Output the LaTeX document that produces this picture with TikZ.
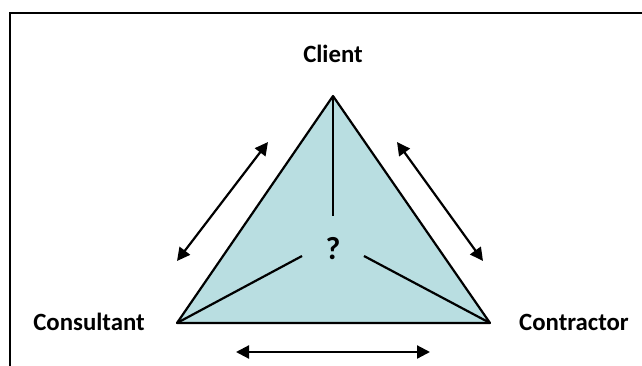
\documentclass[tikz,border=0pt]{standalone}
\usepackage{fontspec}
\setmainfont{Carlito}
\usetikzlibrary{arrows.meta}
\definecolor{trifill}{HTML}{B9DEE1}
\tikzset{
  lbl/.style={font=\bfseries\fontsize{24.8}{28}\selectfont, anchor=base, inner sep=0pt},
  qmark/.style={font=\bfseries\fontsize{32}{36}\selectfont, anchor=base, inner sep=0pt},
  edge/.style={line width=2.2pt, line join=round},
  dblarrow/.style={line width=2.2pt, {Triangle[length=13pt,width=13pt]}-{Triangle[length=13pt,width=13pt]}},
  frame/.style={line width=2.5pt}
}
\begin{document}
\begin{tikzpicture}[x=1pt,y=-1pt]
\useasboundingbox (0,0) rectangle (642,365);
\begin{scope}
\clip (0,0) rectangle (642,365);
\draw[frame] (10,370) -- (10,13) -- (650,13);
\end{scope}
% vertices
\coordinate (A) at (333,96);
\coordinate (L) at (177,323);
\coordinate (R) at (490,323);
\coordinate (iA) at (333,216);
\coordinate (iL) at (302,256);
\coordinate (iR) at (364,256);
\fill[trifill] (A) -- (L) -- (R) -- cycle;
\draw[edge] (A) -- (L) -- (R) -- cycle;
\draw[edge] (A) -- (iA);
\draw[edge] (L) -- (iL);
\draw[edge] (R) -- (iR);
\node[qmark] (q) at (333,259) {?};
% labels
\node[lbl] (client) at (333,62) {Client};
\node[lbl] (consultant) at (89,330.5) {Consultant};
\node[lbl] (contractor) at (574,330.5) {Contractor};
% arrows
\coordinate (a1) at (268,142);
\coordinate (a2) at (177,261);
\coordinate (b1) at (397,142);
\coordinate (b2) at (483,261);
\coordinate (c1) at (236,352);
\coordinate (c2) at (430,352);
\draw[dblarrow] (a1) -- (a2);
\draw[dblarrow] (b1) -- (b2);
\draw[dblarrow] (c1) -- (c2);
\end{tikzpicture}
\end{document}
